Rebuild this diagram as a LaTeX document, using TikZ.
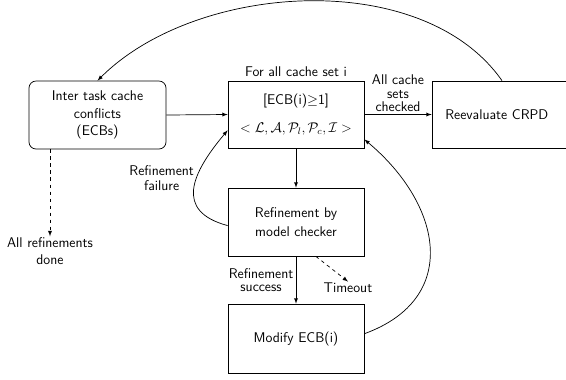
\documentclass[tikz,border=0pt]{standalone}
\usepackage{amssymb}
\usepackage{amsmath}
\usetikzlibrary{positioning,calc}
\renewcommand{\familydefault}{\sfdefault}

\begin{document}
\begin{tikzpicture}[x=0.03cm,y=0.03cm,font=\sffamily\large,line width=0.6pt,
    stepbox/.style={draw, rectangle, minimum width=4.08cm, minimum height=2.04cm, align=center},
    lbl/.style={align=center, inner sep=1pt}]
  \useasboundingbox (0,0) rectangle (566,-379);

  \node[stepbox, rounded corners=6pt, minimum width=4.11cm] (inter) at (97.5,-115) {Inter task cache\\[1pt] conflicts\\[1pt] (ECBs)};
  \node[stepbox, minimum height=2.01cm] (cset) at (296,-114.5) {[ECB(i)$\geq$1]\\[10pt] $<\mathcal{L},\mathcal{A},\mathcal{P}_l,\mathcal{P}_c,\mathcal{I}>$};
  \node[lbl, above=2pt of cset] (forall) {For all cache set i};
  \node[stepbox, minimum width=4.2cm, minimum height=2.01cm, align=left, text width=3.4cm] (reeval) at (502,-114.5) {Reevaluate CRPD};
  \node[stepbox] (refine) at (296,-222) {Refinement by\\[2pt] model checker};
  \node[stepbox, minimum height=2.07cm] (modify) at (296,-338.5) {Modify ECB(i)};

  \node[lbl] (alldone) at (50,-251) {All refinements\\ done};
  \node[lbl] (timeout) at (348,-288) {Timeout};

  % main flow
  \draw[-latex] (inter.east) -- (cset.west);
  \draw[-latex] (cset.east) -- (reeval.west) node[midway, above, lbl, inner sep=2pt] {All cache\\[-2pt] sets\\[-3pt] checked};
  \draw[-latex] (cset.south) -- (refine.north);
  \draw[-latex] (refine.south) -- (modify.north) node[midway, left, lbl, inner sep=2pt] {Refinement\\[-3pt] success};
  \draw[-latex] (reeval.north) to[out=125, in=45, looseness=0.88] (inter.north);

  % loops back
  \draw[-latex] (refine.183.4) to[out=165, in=230, looseness=1.5] node[pos=0.6, left, lbl, inner sep=2pt] {Refinement\\[-2pt] failure} (cset.193.6);
  \draw[-latex] (modify.4.6) to[out=20, in=-40, looseness=1.35] (cset.-20.6);

  \draw[dashed, -latex] (refine.-60.8) -- (timeout.north);
  \draw[dashed, -latex] (inter.south -| alldone.north) -- (alldone.north);
\end{tikzpicture}
\end{document}
